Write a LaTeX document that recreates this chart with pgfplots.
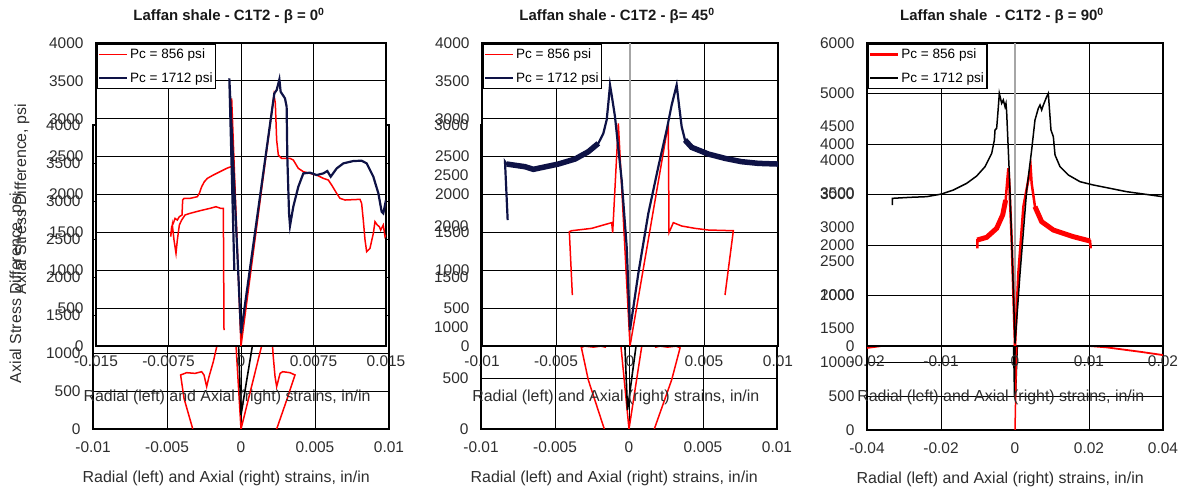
\documentclass[border=0pt]{standalone}
\usepackage{fontspec}
\setmainfont{Liberation Sans}
\usepackage{pgfplots}
\pgfplotsset{compat=1.18}
\definecolor{navy}{RGB}{14,18,70}
\definecolor{tick}{RGB}{45,45,45}
\newcommand{\tickfont}{\fontsize{15.5}{16}\selectfont}
\newcommand{\labfont}{\fontsize{16}{18}\selectfont}
\newcommand{\legfont}{\fontsize{13.6}{15}\selectfont}
\pgfplotsset{
  base/.style={scale only axis, anchor=south west, clip=true,
    axis line style={line width=1.8bp, black},
    major grid style={line width=0.9bp, black},
    xmajorgrids, ymajorgrids,
    major tick length=0pt, tick style={draw=none},
    scaled ticks=false,
    ticklabel style={font=\tickfont, text=tick},
    yticklabel style={xshift=-9bp},
    label style={font=\labfont, text=tick},
  },
  front/.style={base, axis background/.style={fill=white},
    xticklabel style={yshift=-6bp},
    xlabel style={at={(axis description cs:0.452,-0.168)}, anchor=center},
    legend style={at={(0,1)}, anchor=north west, draw=black, line width=1.8bp,
      font=\legfont, inner xsep=1bp, inner ysep=2bp, row sep=6bp,
      nodes={inner xsep=2bp, inner ysep=3bp},
      cells={anchor=west}},
    legend image code/.code={\draw[##1] (0bp,0bp) -- (28bp,0bp);},
  },
  back/.style={base,
    xticklabel style={yshift=-9bp},
    xlabel style={at={(axis description cs:0.45,-0.164)}, anchor=center},
  },
}
\begin{document}
\begin{tikzpicture}
% ================= BACK AXES =================
\begin{axis}[back, at={(93bp,65bp)}, width=296bp, height=304bp,
  xmin=-0.01, xmax=0.01, ymin=0, ymax=4000,
  xtick={-0.01,-0.005,0,0.005,0.01}, xticklabels={-0.01,-0.005,0,0.005,0.01},
  ytick={0,500,...,4000}, yticklabels={0,500,1000,1500,2000,2500,3000,3500,4000},
  xlabel={Radial (left) and Axial (right) strains, in/in}]
\addplot[red, line width=1.5bp] coordinates {(-0.00326,0)(-0.00385,403)(-0.00408,711)(-0.00367,741)(-0.00311,732)(-0.00266,754)(-0.0025,711)(-0.00232,557)(-0.00216,689)(-0.00187,886)(-0.00164,1083)(-0.00146,1237)(-0.0012,1600)};
\addplot[red, line width=1.5bp] coordinates {(0.00241,0)(0.00309,382)(0.00365,711)(0.00331,741)(0.00282,754)(0.00264,732)(0.00241,557)(0.0023,689)(0.00218,951)(0.00212,1128)(0.002,1500)};
\addplot[red, line width=1.5bp] coordinates {(-0.0004,1300)(0,0)(0.00155,1215)(0.0019,1500)};
\addplot[black, line width=1.6bp] coordinates {(-0.0002,1300)(0,184)(0.0009,1250)};
\end{axis}
\begin{axis}[back, at={(481bp,65bp)}, width=296bp, height=304bp,
  xmin=-0.01, xmax=0.01, ymin=0, ymax=3000,
  xtick={-0.01,-0.005,0,0.005,0.01}, xticklabels={-0.01,-0.005,0,0.005,0.01},
  ytick={0,500,...,3000}, yticklabels={0,500,1000,1500,2000,2500,3000},
  xlabel={Radial (left) and Axial (right) strains, in/in}]
\addplot[red, line width=1.5bp] coordinates {(-0.00167,0)(-0.00275,484)(-0.00322,805)(-0.0030,818)(-0.0024,808)(-0.0019,818)(-0.0016,808)(-0.0013,950)};
\addplot[red, line width=1.5bp] coordinates {(0.00171,0)(0.00288,484)(0.00345,800)(0.0032,818)(0.0026,808)(0.0021,818)(0.0018,808)(0.0015,950)};
\addplot[red, line width=1.5bp] coordinates {(-0.0006,900)(0,0)(0.00095,900)};
\addplot[black, line width=1.6bp] coordinates {(-0.0003,900)(-0.0001,188)(0.00055,900)};
\end{axis}
\begin{axis}[back, at={(867bp,64bp)}, width=296bp, height=304bp,
  xmin=-0.04, xmax=0.04, ymin=0, ymax=4500,
  xtick={-0.04,-0.02,0,0.02,0.04}, xticklabels={-0.04,-0.02,0,0.02,0.04},
  ytick={0,500,...,4500}, yticklabels={0,500,1000,1500,2000,2500,3000,3500,4000,4500},
  xlabel={Radial (left) and Axial (right) strains, in/in}]
\addplot[red, line width=1.8bp] coordinates {(-0.04,1215)(-0.0365,1240)(-0.03,1320)};
\addplot[red, line width=1.8bp] coordinates {(0.015,1320)(0.0203,1243)(0.0248,1223)(0.0338,1158)(0.04,1109)};
\addplot[black, line width=2.5bp] coordinates {(-0.0003,1400)(0,500)(0.0006,1400)};
\addplot[red, line width=1.5bp] coordinates {(0,0)(0.0005,1400)};
\end{axis}
% ================= FRONT AXES =================
\begin{axis}[front, at={(96bp,148bp)}, width=290bp, height=303bp,
  xmin=-0.015, xmax=0.015, ymin=0, ymax=4000,
  xtick={-0.015,-0.0075,0,0.0075,0.015}, xticklabels={-0.015,-0.0075,0,0.0075,0.015},
  ytick={0,500,...,4000}, yticklabels={0,500,1000,1500,2000,2500,3000,3500,4000},
  xlabel={Radial (left) and Axial (right) strains, in/in}]
\addplot[red, line width=1.5bp] coordinates {(0,0)(-0.000965,3269)(-0.000862,2376)(-0.001483,2345)(-0.002172,2301)(-0.002862,2257)(-0.003482,2213)(-0.003793,2169)(-0.004069,2103)(-0.00431,2015)(-0.004517,1971)(-0.005275,1949)(-0.005896,1949)(-0.006034,1927)(-0.006103,1729)(-0.006379,1707)(-0.006586,1663)(-0.006827,1685)(-0.007,1619)(-0.007172,1575)(-0.007275,1443)(-0.007103,1597)(-0.00693,1399)(-0.006724,1223)(-0.006586,1399)(-0.006379,1597)(-0.006138,1663)(-0.005793,1729)(-0.005275,1751)(-0.004241,1786)(-0.003207,1817)(-0.002586,1839)(-0.002103,1817)(-0.001827,1817)(-0.001758,211)};
\addlegendentry{Pc = 856 psi}
\addplot[red, line width=1.5bp, forget plot] coordinates {(0,0)(0.003414,3313)(0.003551,3203)(0.003689,2719)(0.003862,2521)(0.004207,2477)(0.005069,2477)(0.005413,2455)(0.00593,2345)(0.006448,2301)(0.007827,2257)(0.008516,2213)(0.009034,2191)(0.009379,2125)(0.009896,2015)(0.01024,1949)(0.01076,1927)(0.01231,1936)(0.01248,1883)(0.01265,1663)(0.01283,1399)(0.013,1245)(0.01334,1289)(0.01369,1487)(0.01386,1641)(0.0141,1597)(0.01431,1575)(0.01445,1531)(0.01472,1597)(0.0149,1443)(0.015,1465)};
\addplot[navy, line width=2.2bp] coordinates {(0,170)(-0.001207,3533)(-0.00069,1003)};
\addlegendentry{Pc = 1712 psi}
\addplot[navy, line width=2.2bp, forget plot] coordinates {(0,167)(0.003448,3335)(0.00369,3379)(0.00397,3520)(0.0041,3357)(0.00455,3269)(0.00472,3159)(0.00479,2499)(0.00497,1751)(0.00507,1588)(0.00541,1839)(0.00593,2103)(0.00645,2279)(0.00714,2288)(0.00783,2257)(0.00852,2279)(0.00893,2310)(0.00928,2235)(0.0099,2345)(0.01059,2411)(0.01162,2442)(0.01248,2446)(0.013,2411)(0.01369,2235)(0.01421,2015)(0.01455,1773)(0.01472,1751)(0.015,1927)};
\end{axis}
\begin{axis}[front, at={(482bp,148bp)}, width=296bp, height=303bp,
  xmin=-0.01, xmax=0.01, ymin=0, ymax=4000,
  xtick={-0.01,-0.005,0,0.005,0.01}, xticklabels={-0.01,-0.005,0,0.005,0.01},
  ytick={0,500,...,4000}, yticklabels={0,500,1000,1500,2000,2500,3000,3500,4000},
  xlabel={Radial (left) and Axial (right) strains, in/in}]
\draw[gray!70, line width=1.6bp] (axis cs:0,0) -- (axis cs:0,4000);
\addplot[red, line width=1.5bp] coordinates {(0,0)(-0.000788,2939)(-0.001171,1496)(-0.001239,1628)(-0.001802,1597)(-0.00259,1553)(-0.003941,1522)(-0.004099,1509)(-0.003896,673)};
\addlegendentry{Pc = 856 psi}
\addplot[red, line width=1.5bp, forget plot] coordinates {(0,0)(0.00259,2939)(0.002635,1496)(0.002928,1628)(0.003491,1584)(0.004392,1553)(0.005293,1531)(0.006982,1522)(0.006419,673)};
\addplot[navy, line width=2.2bp] coordinates {(0,211)(-0.000225,1311)(-0.000563,2191)(-0.001014,3027)(-0.001239,3313)(-0.001351,3445)(-0.001464,3203)(-0.001577,2983)(-0.001802,2807)(-0.00214,2675)(-0.002815,2565)(-0.003716,2468)(-0.004842,2402)(-0.006532,2332)(-0.007095,2367)(-0.008333,2402)(-0.008446,2433)(-0.008266,1663)};
\addlegendentry{Pc = 1712 psi}
\addplot[navy, line width=2.2bp, forget plot] coordinates {(0,211)(0.000563,959)(0.001239,1751)(0.001914,2367)(0.002477,2851)(0.002815,3181)(0.003153,3445)(0.003311,3181)(0.003491,2895)(0.003716,2719)(0.004167,2622)(0.005293,2534)(0.006419,2477)(0.007545,2433)(0.008671,2411)(0.01,2402)};
\addplot[navy, line width=5.5bp, forget plot] coordinates {(-0.00214,2675)(-0.002815,2565)(-0.003716,2468)(-0.004842,2402)(-0.006532,2332)(-0.007095,2367)(-0.008333,2402)};
\addplot[navy, line width=5.5bp, forget plot] coordinates {(0.003716,2719)(0.004167,2622)(0.005293,2534)(0.006419,2477)(0.007545,2433)(0.008671,2411)(0.01,2402)};
\end{axis}
\begin{axis}[front, at={(867bp,148bp)}, width=296bp, height=303bp,
  xmin=-0.02, xmax=0.02, ymin=0, ymax=6000,
  xtick={-0.02,-0.01,0,0.01,0.02}, xticklabels={-0.02,-0.01,0,0.01,0.02},
  ytick={0,1000,...,6000}, yticklabels={0,1000,2000,3000,4000,5000,6000},
  xlabel={Radial (left) and Axial (right) strains, in/in}]
\draw[gray!70, line width=1.6bp] (axis cs:0,0) -- (axis cs:0,6000);
\addplot[red, line width=2.5bp] coordinates {(0,0)(-0.00045,2099)(-0.00077,3221)(-0.0009,3518)(-0.00104,3287)(-0.00126,2891)(-0.00167,2594)(-0.00248,2330)(-0.00383,2152)(-0.00509,2099)(-0.00509,1934)};
\addlegendentry{Pc = 856 psi}
\addplot[red, line width=2.5bp, forget plot] coordinates {(0,0)(0.00045,1439)(0.00113,2759)(0.0018,3287)(0.00212,3518)(0.00225,3221)(0.0027,2759)(0.0036,2462)(0.00518,2297)(0.00788,2165)(0.01014,2079)(0.01023,1934)};
\addplot[red, line width=5bp, forget plot] coordinates {(-0.00126,2891)(-0.00167,2594)(-0.00248,2330)(-0.00383,2152)(-0.00509,2099)};
\addplot[red, line width=5bp, forget plot] coordinates {(0.0027,2759)(0.0036,2462)(0.00518,2297)(0.00788,2165)(0.01014,2079)};
\addplot[black, line width=1.5bp] coordinates {(0,53)(-0.00045,2099)(-0.00077,3419)(-0.00113,4640)(-0.00122,4805)(-0.00135,4739)(-0.00158,4871)(-0.0018,4805)(-0.00212,5003)(-0.00225,4739)(-0.00239,4475)(-0.00248,4310)(-0.0027,4277)(-0.00279,4079)(-0.00315,3815)(-0.00405,3551)(-0.00518,3366)(-0.00653,3221)(-0.00833,3089)(-0.00991,3010)(-0.01194,2957)(-0.01419,2944)(-0.01658,2924)(-0.01658,2792)};
\addlegendentry{Pc = 1712 psi}
\addplot[black, line width=1.5bp, forget plot] coordinates {(0,53)(0.00068,1439)(0.00158,3089)(0.00225,3881)(0.0027,4475)(0.00315,4706)(0.00338,4772)(0.0036,4673)(0.00383,4772)(0.00428,4937)(0.0045,5003)(0.00473,4541)(0.00486,4277)(0.00518,4145)(0.00541,3782)(0.00608,3551)(0.00721,3386)(0.00878,3254)(0.01059,3188)(0.01284,3122)(0.01509,3056)(0.01734,3010)(0.01995,2957)};
\end{axis}
% ================= TITLES & Y LABELS =================
\node[font=\bfseries\fontsize{15}{17}\selectfont, text=black!90] at (229bp,478bp) {Laffan shale - C1T2 - β = 0\textsuperscript{0}};
\node[font=\bfseries\fontsize{15}{17}\selectfont, text=black!90] at (617bp,478bp) {Laffan shale - C1T2 - β= 45\textsuperscript{0}};
\node[font=\bfseries\fontsize{15}{17}\selectfont, text=black!90] at (1002bp,478bp) {Laffan shale\ \ - C1T2 - β = 90\textsuperscript{0}};
\node[rotate=90, font=\labfont, text=tick] at (17bp,206bp) {Axial Stress Difference, psi};
\node[rotate=90, font=\labfont, text=tick] at (22bp,295bp) {Axial Stress Difference, psi};
\pgfresetboundingbox
\path[use as bounding box] (0,0) rectangle (1185bp,494bp);
\end{tikzpicture}
\end{document}
